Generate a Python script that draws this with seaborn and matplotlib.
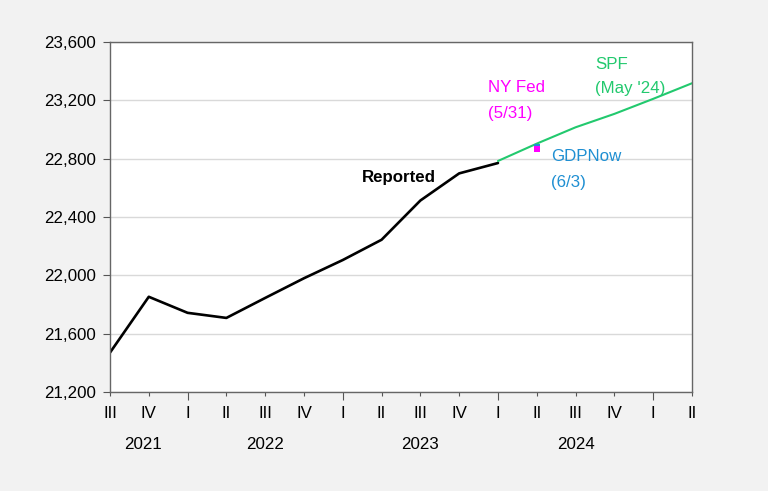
import matplotlib
matplotlib.use("Agg")
import matplotlib.pyplot as plt
import seaborn as sns
import pandas as pd

# quarters 2021Q3 .. 2025Q2
quarter_labels = ["III", "IV", "I", "II", "III", "IV", "I", "II",
                  "III", "IV", "I", "II", "III", "IV", "I", "II"]
year_labels = ["2021", "2022", "2023", "2024"]
year_pos = [0.85, 4.0, 8.0, 12.0]

reported = [21470, 21853, 21743, 21708, 21845, 21980, 22105, 22244,
            22513, 22699, 22770]
spf = [22784, 22903, 23015, 23107, 23210, 23317]
spf_start = 10
nyfed = 22866
gdpnow = 22882
nowcast_q = 11

sns.set_theme(style="white")
plt.rcParams["font.family"] = ["Liberation Sans", "DejaVu Sans"]
plt.rcParams["text.color"] = "black"
plt.rcParams["xtick.color"] = "black"
plt.rcParams["ytick.color"] = "black"
fs = 12.2

df_rep = pd.DataFrame({"q": range(len(reported)), "v": reported})
df_spf = pd.DataFrame({"q": range(spf_start, spf_start + len(spf)), "v": spf})

fig = plt.figure(figsize=(7.68, 4.91), dpi=100, facecolor="#f2f2f2")
ax = fig.add_axes([0.1432, 0.2016, 0.9010 - 0.1432, 0.9145 - 0.2016])
ax.set_facecolor("white")

sns.lineplot(data=df_rep, x="q", y="v", color="black", lw=1.9, ax=ax)
sns.lineplot(data=df_spf, x="q", y="v", color="#22c96e", lw=1.5, ax=ax)
ax.scatter([nowcast_q], [gdpnow], marker="s", s=18, color="#1f8fd2", lw=0, zorder=5)
ax.scatter([nowcast_q], [nyfed], marker="s", s=18, color="#ff00ff", lw=0, zorder=6)

ax.set_xlim(0, 15)
ax.set_ylim(21200, 23600)
yt = list(range(21200, 23601, 400))
ax.set_yticks(yt)
ax.set_yticklabels([f"{v:,}" for v in yt], fontsize=fs)
ax.yaxis.grid(True, color="#d9d9d9", lw=1)
ax.set_xticks(range(16))
ax.set_xticklabels(quarter_labels, fontsize=fs)
ax.tick_params(axis="x", bottom=True, length=3, width=0.8, color="#555555", pad=7)
ax.tick_params(axis="y", left=True, length=5, width=0.8, color="#555555", pad=5)
for i, t in enumerate(ax.xaxis.get_major_ticks()):
    if quarter_labels[i] == "I":
        t.tick1line.set_markersize(6)
for s in ax.spines.values():
    s.set_color("#666666")
    s.set_linewidth(1)

for yl, xp in zip(year_labels, year_pos):
    ax.text(xp, -0.151, yl, transform=ax.get_xaxis_transform(),
            ha="center", va="center", fontsize=fs)

ax.set_xlabel("")
ax.set_ylabel("")

ax.text(6.5, 22674, "Reported", fontsize=fs, fontweight="bold", color="black",
        ha="left", va="center")
ax.text(9.74, 23198, "NY Fed\n(5/31)", color="#ff00ff", fontsize=fs,
        ha="left", va="center", linespacing=1.9)
ax.text(11.37, 22727, "GDPNow\n(6/3)", color="#1f8fd2", fontsize=fs,
        ha="left", va="center", linespacing=1.9)
ax.text(12.5, 23363, "SPF\n(May '24)", color="#22c96e", fontsize=fs,
        ha="left", va="center", linespacing=1.8)

fig.savefig("out.png", dpi=100, facecolor=fig.get_facecolor())
